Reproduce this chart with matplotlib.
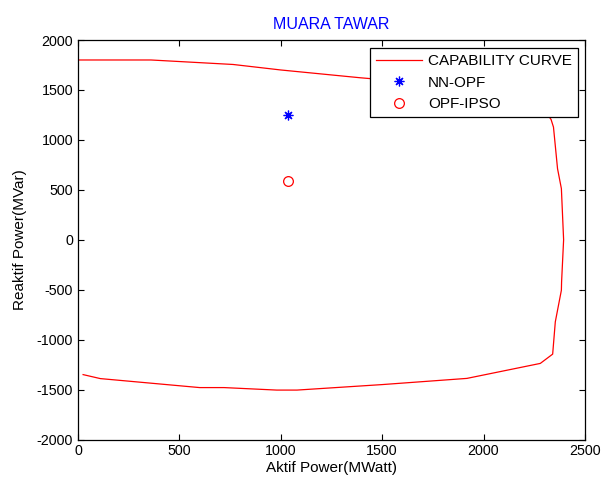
import matplotlib
matplotlib.use('Agg')
import matplotlib.pyplot as plt

plt.rcParams['font.family'] = ['Liberation Sans', 'DejaVu Sans']
plt.rcParams['font.size'] = 10
plt.rcParams['axes.unicode_minus'] = False

# kurva kapabilitas generator (MW, MVar)
cap_p = [0, 360, 765, 1000, 1392, 1750, 2100, 2280, 2333, 2345, 2365, 2384,
         2395, 2385, 2384, 2354, 2341, 2280, 1918, 1500, 1080, 980, 720, 600,
         110, 25]
cap_q = [1800, 1800, 1755, 1700, 1622, 1560, 1480, 1350, 1205, 1128, 712, 512,
         0, -422, -505, -822, -1145, -1238, -1388, -1450, -1505, -1505, -1480,
         -1480, -1390, -1350]

# titik operasi hasil optimasi
nn_p = [1038]
nn_q = [1252]
ipso_p = [1038]
ipso_q = [588]

fig = plt.figure(figsize=(6.02, 4.78), dpi=100)
ax = fig.add_axes([0.1296, 0.0805, 0.842, 0.8358])

ax.plot(cap_p, cap_q, color='red', linewidth=0.9, label='CAPABILITY CURVE')
ax.plot(nn_p, nn_q, linestyle='none', marker=(8, 2, 0), markersize=7,
        markeredgecolor='blue', markeredgewidth=0.9, label='NN-OPF')
ax.plot(ipso_p, ipso_q, linestyle='none', marker='o', markersize=7,
        markerfacecolor='none', markeredgecolor='red', markeredgewidth=0.9,
        label='OPF-IPSO')

ax.set_xlim(0, 2500)
ax.set_ylim(-2000, 2000)
ax.set_xticks(range(0, 2501, 500))
ax.set_yticks(range(-2000, 2001, 500))
ax.tick_params(direction='in', top=True, right=True, length=4, width=0.8,
               labelsize=10.3, colors='black')
for s in ax.spines.values():
    s.set_linewidth(0.9)

ax.set_title('MUARA TAWAR', color='blue', fontsize=11.5, pad=8)
ax.set_xlabel('Aktif Power(MWatt)', fontsize=11, labelpad=2)
ax.set_ylabel('Reaktif Power(MVar)', fontsize=11, labelpad=7)

leg = ax.legend(loc='upper right', bbox_to_anchor=(0.986, 0.98),
                borderaxespad=0, fancybox=False, framealpha=1,
                edgecolor='black', handlelength=3.0, handletextpad=0.4,
                labelspacing=0.5, borderpad=0.4, fontsize=11)
leg.get_frame().set_linewidth(0.9)

fig.savefig('out.png', dpi=100)
